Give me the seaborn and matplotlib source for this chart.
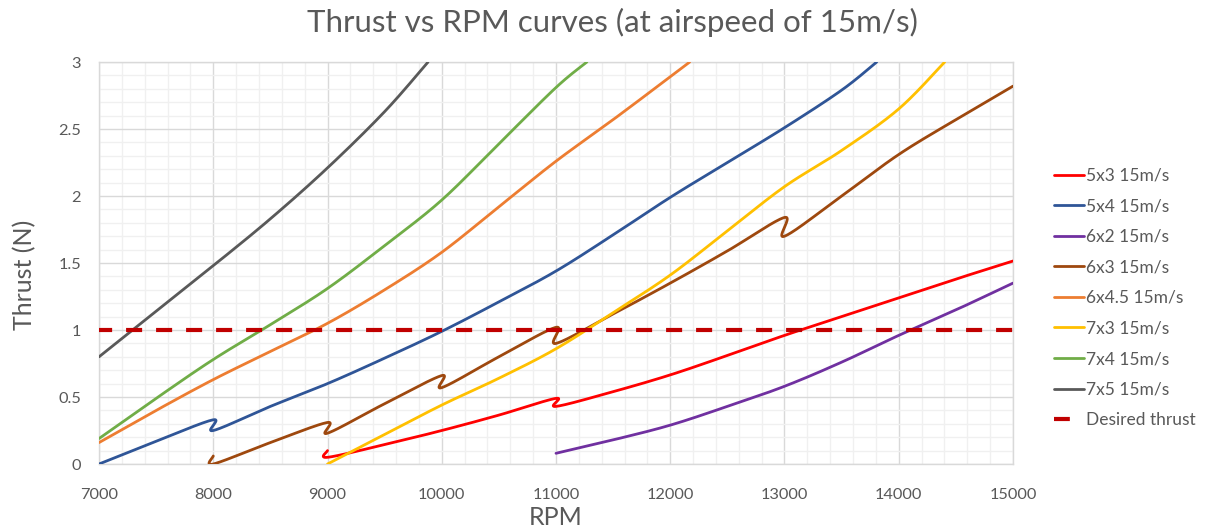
import numpy as np
import pandas as pd
import matplotlib
matplotlib.use("Agg")
import matplotlib.pyplot as plt
import seaborn as sns
from matplotlib.ticker import MultipleLocator
from matplotlib.lines import Line2D

# ---------------- data ----------------
rpm_5x3 = [9000, 9000, 9500, 10000, 10500, 11000, 11000, 11500, 12000, 12500, 13000, 13500, 14000, 14500, 15000]
thr_5x3 = [0.10, 0.05, 0.145, 0.25, 0.365, 0.49, 0.43, 0.54, 0.665, 0.81, 0.96, 1.10, 1.24, 1.38, 1.515]

rpm_5x4 = [7000, 7500, 8000, 8000, 8500, 9000, 9500, 10000, 10500, 11000, 11500, 12000, 12500, 13000, 13500, 13807]
thr_5x4 = [0.0, 0.17, 0.33, 0.25, 0.43, 0.60, 0.79, 0.99, 1.21, 1.44, 1.71, 1.99, 2.25, 2.51, 2.79, 3.0]

rpm_6x2 = [11000, 11500, 12000, 12500, 13000, 13500, 14000, 14500, 15000]
thr_6x2 = [0.08, 0.18, 0.29, 0.43, 0.58, 0.76, 0.96, 1.15, 1.35]

rpm_6x3 = [8000, 8000, 8500, 9000, 9000, 9500, 10000, 10000, 10500, 11000, 11000, 11500, 12000, 12500, 13000, 13000, 13500, 14000, 14500, 15000]
thr_6x3 = [0.06, 0.0, 0.16, 0.31, 0.23, 0.45, 0.66, 0.57, 0.80, 1.02, 0.90, 1.12, 1.35, 1.59, 1.84, 1.70, 2.0, 2.31, 2.57, 2.82]

rpm_6x45 = [7000, 7500, 8000, 8500, 9000, 9500, 10000, 10500, 11000, 11500, 12000, 12170]
thr_6x45 = [0.16, 0.40, 0.63, 0.84, 1.05, 1.30, 1.58, 1.92, 2.26, 2.57, 2.89, 3.0]

rpm_7x3 = [9000, 9500, 10000, 10500, 11000, 11500, 12000, 12500, 13000, 13500, 14000, 14402]
thr_7x3 = [0.0, 0.22, 0.44, 0.64, 0.86, 1.13, 1.41, 1.74, 2.07, 2.34, 2.65, 3.0]

rpm_7x4 = [7000, 7500, 8000, 8500, 9000, 9500, 10000, 10500, 11000, 11270]
thr_7x4 = [0.19, 0.49, 0.78, 1.04, 1.31, 1.63, 1.97, 2.39, 2.81, 3.0]

rpm_7x5 = [7000, 7500, 8000, 8500, 9000, 9500, 9880]
thr_7x5 = [0.80, 1.14, 1.48, 1.83, 2.21, 2.63, 3.0]

rpm_desired = [7000, 15000]
thr_desired = [1.0, 1.0]

labels = ["5x3 15m/s", "5x4 15m/s", "6x2 15m/s", "6x3 15m/s", "6x4.5 15m/s",
          "7x3 15m/s", "7x4 15m/s", "7x5 15m/s", "Desired thrust"]
colors = ["#FF0000", "#2F5597", "#7030A0", "#9E480E", "#ED7D31",
          "#FFC000", "#70AD47", "#595959", "#C00000"]

series = [(rpm_5x3, thr_5x3), (rpm_5x4, thr_5x4), (rpm_6x2, thr_6x2), (rpm_6x3, thr_6x3),
          (rpm_6x45, thr_6x45), (rpm_7x3, thr_7x3), (rpm_7x4, thr_7x4), (rpm_7x5, thr_7x5)]


# Excel-like "smoothed line" rendering (Bezier spline through the data points)
def smooth(xs, ys, n=40, k=1 / 6):
    P = np.column_stack([np.asarray(xs, float), np.asarray(ys, float)])
    if len(P) < 3:
        return P[:, 0], P[:, 1]
    E = np.vstack([P[0], P, P[-1]])
    t = np.linspace(0, 1, n)[:, None]
    out = []
    for i in range(len(P) - 1):
        p0, p1, p2, p3 = E[i], E[i + 1], E[i + 2], E[i + 3]
        c1 = p1 + (p2 - p0) * k
        c2 = p2 - (p3 - p1) * k
        seg = ((1 - t) ** 3) * p1 + 3 * ((1 - t) ** 2) * t * c1 + 3 * (1 - t) * t ** 2 * c2 + t ** 3 * p2
        out.append(seg if i == 0 else seg[1:])
    S = np.vstack(out)
    return S[:, 0], S[:, 1]


sns.set_theme(style="white")
plt.rcParams['font.family'] = ['Lato', 'DejaVu Sans']
text_col = "#595959"

fig = plt.figure(figsize=(12.24, 5.32), dpi=100)
ax = fig.add_axes([0.0809, 0.1278, 0.7467, 0.7556])

handles = []
for (xs, ys), lab, col in zip(series, labels[:-1], colors[:-1]):
    sx, sy = smooth(xs, ys)
    df = pd.DataFrame({"RPM": sx, "Thrust": sy})
    sns.lineplot(data=df, x="RPM", y="Thrust", sort=False, estimator=None,
                 color=col, lw=2.0, ax=ax, legend=False, solid_capstyle="round", zorder=3)
    handles.append(Line2D([], [], color=col, lw=2.0, label=lab))

df_d = pd.DataFrame({"RPM": rpm_desired, "Thrust": thr_desired})
sns.lineplot(data=df_d, x="RPM", y="Thrust", sort=False, estimator=None, color=colors[-1],
             lw=3.0, ax=ax, legend=False, linestyle=(0.7, (3.85, 3.35)), zorder=4)
handles.append(Line2D([], [], color=colors[-1], lw=3.0, linestyle=(0, (3.8, 6.0)), label=labels[-1]))

ax.set_xlim(7000, 15000)
ax.set_ylim(0, 3)
ax.xaxis.set_major_locator(MultipleLocator(1000))
ax.xaxis.set_minor_locator(MultipleLocator(200))
ax.yaxis.set_major_locator(MultipleLocator(0.5))
ax.yaxis.set_minor_locator(MultipleLocator(0.1))
ax.set_yticks([0, 0.5, 1, 1.5, 2, 2.5, 3])
ax.set_yticklabels(["0", "0.5", "1", "1.5", "2", "2.5", "3"])
ax.grid(which="major", color="#D9D9D9", lw=1.0, zorder=0)
ax.grid(which="minor", color="#F0F0F0", lw=1.0, zorder=0)
ax.set_axisbelow(True)
for sp in ax.spines.values():
    sp.set_color("#D9D9D9")
    sp.set_linewidth(1.0)
ax.tick_params(axis="both", which="both", length=0, colors=text_col, labelsize=11.8)
ax.tick_params(axis="x", pad=17)
ax.tick_params(axis="y", pad=13)

ax.set_xlabel("RPM", fontsize=18, color=text_col)
ax.xaxis.set_label_coords(0.5, -0.132)
ax.xaxis.label.set_va("center")
ax.set_ylabel("Thrust (N)", fontsize=18, color=text_col)
ax.yaxis.set_label_coords(-0.081, 0.47)
ax.yaxis.label.set_va("center")

fig.text(0.5, 0.9586, "Thrust vs RPM curves (at airspeed of 15m/s)", ha="center", va="center",
         fontsize=22.5, color=text_col)

leg = fig.legend(handles=handles, loc="upper left", bbox_to_anchor=(0.8615, 0.685),
                 frameon=False, fontsize=12.5, handlelength=1.72, handletextpad=0.12,
                 labelspacing=0.84, borderpad=0, borderaxespad=0)
for t in leg.get_texts():
    t.set_color(text_col)

fig.savefig("out.png", dpi=100)
